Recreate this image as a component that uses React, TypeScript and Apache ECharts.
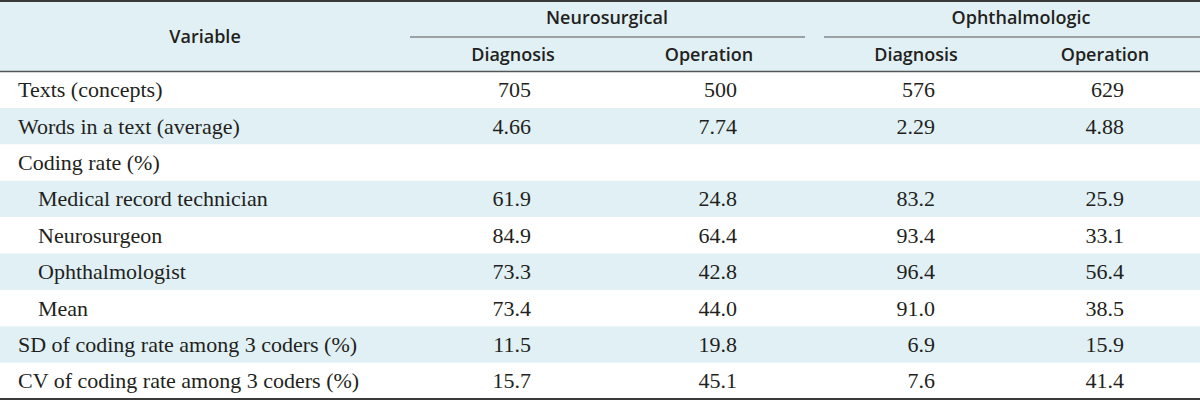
import React, { useEffect, useRef } from "react";
import * as echarts from "echarts";

const groupNames = ["Neurosurgical", "Ophthalmologic"];
const subNames = ["Diagnosis", "Operation", "Diagnosis", "Operation"];
const rowLabels = [
  "Texts (concepts)",
  "Words in a text (average)",
  "Coding rate (%)",
  "Medical record technician",
  "Neurosurgeon",
  "Ophthalmologist",
  "Mean",
  "SD of coding rate among 3 coders (%)",
  "CV of coding rate among 3 coders (%)",
];
const rowIndent = [false, false, false, true, true, true, true, false, false];
const rowDecimals = [0, 2, 0, 1, 1, 1, 1, 1, 1];
const neuroDiagnosis = [705, 4.66, null, 61.9, 84.9, 73.3, 73.4, 11.5, 15.7];
const neuroOperation = [500, 7.74, null, 24.8, 64.4, 42.8, 44.0, 19.8, 45.1];
const ophthDiagnosis = [576, 2.29, null, 83.2, 93.4, 96.4, 91.0, 6.9, 7.6];
const ophthOperation = [629, 4.88, null, 25.9, 33.1, 56.4, 38.5, 15.9, 41.4];

const columns = [neuroDiagnosis, neuroOperation, ophthDiagnosis, ophthOperation];

export default function App() {
  const ref = useRef<HTMLDivElement>(null);
  useEffect(() => {
    if (!ref.current) return;
    const chart = echarts.init(ref.current, null, { renderer: "svg" });
    const W = 1200;
    const headerH = 71.5;
    const rowH = 36.4;
    const shade = "#e0f0f4";
    const textColor = "#231f20";
    const serif = "'Liberation Serif', 'DejaVu Serif', serif";
    const sans = "'Open Sans', 'Noto Sans', sans-serif";
    const colCenters = [513, 709, 916, 1105];
    const colRight = [531, 737, 935, 1124];
    const groupCenters = [607, 1021];
    const groupSpans = [
      [410, 805],
      [824, 1200],
    ];
    const els: any[] = [];
    els.push({ type: "rect", shape: { x: 0, y: 0, width: W, height: headerH }, style: { fill: shade } });
    rowLabels.forEach((_, i) => {
      if (i % 2 === 1) {
        els.push({
          type: "rect",
          shape: { x: 0, y: headerH + i * rowH, width: W, height: rowH },
          style: { fill: shade },
        });
      }
    });
    els.push({ type: "line", shape: { x1: 0, y1: 1, x2: W, y2: 1 }, style: { stroke: "#3a3a3a", lineWidth: 2 } });
    els.push({ type: "line", shape: { x1: 0, y1: headerH, x2: W, y2: headerH }, style: { stroke: "#555", lineWidth: 1.5 } });
    const bottom = headerH + rowLabels.length * rowH;
    els.push({ type: "line", shape: { x1: 0, y1: bottom, x2: W, y2: bottom }, style: { stroke: "#3a3a3a", lineWidth: 2 } });
    groupSpans.forEach((s) => {
      els.push({ type: "line", shape: { x1: s[0], y1: 37, x2: s[1], y2: 37 }, style: { stroke: "#555", lineWidth: 1 } });
    });
    els.push({
      type: "text",
      x: 205,
      y: 36,
      style: { text: "Variable", font: `600 18px ${sans}`, fill: textColor, align: "center", verticalAlign: "middle" },
    });
    groupNames.forEach((g, i) => {
      els.push({
        type: "text",
        x: groupCenters[i],
        y: 17,
        style: { text: g, font: `600 18px ${sans}`, fill: textColor, align: "center", verticalAlign: "middle" },
      });
    });
    subNames.forEach((s, i) => {
      els.push({
        type: "text",
        x: colCenters[i],
        y: 54,
        style: { text: s, font: `600 18px ${sans}`, fill: textColor, align: "center", verticalAlign: "middle" },
      });
    });
    rowLabels.forEach((lab, i) => {
      const cy = headerH + i * rowH + rowH / 2;
      els.push({
        type: "text",
        x: rowIndent[i] ? 38 : 18,
        y: cy,
        style: { text: lab, font: `22px ${serif}`, fill: textColor, align: "left", verticalAlign: "middle" },
      });
      columns.forEach((col, c) => {
        const v = col[i];
        if (v === null || v === undefined) return;
        els.push({
          type: "text",
          x: colRight[c],
          y: cy,
          style: {
            text: (v as number).toFixed(rowDecimals[i]),
            font: `22px ${serif}`,
            fill: textColor,
            align: "right",
            verticalAlign: "middle",
          },
        });
      });
    });
    chart.setOption({ animation: false, graphic: { elements: els } });
    return () => chart.dispose();
  }, []);
  return <div ref={ref} style={{ width: 1200, height: 401, position: "absolute", left: 0, top: 0 }} />;
}
